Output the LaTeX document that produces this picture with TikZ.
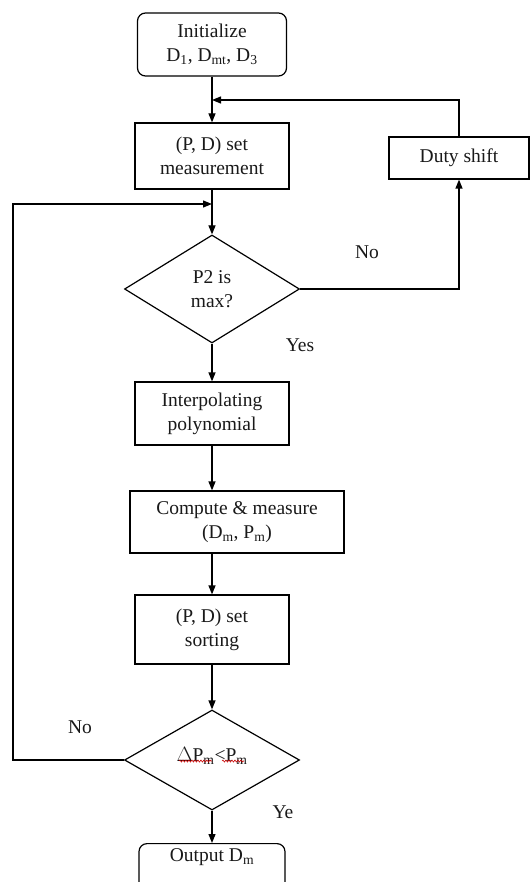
\documentclass[tikz,border=0pt]{standalone}
\usepackage{fontspec}
\setmainfont{Liberation Serif}
\usetikzlibrary{shapes.geometric,arrows.meta,decorations.pathmorphing,calc}
\begin{document}
\begin{tikzpicture}[x=1pt,y=-1pt,
  every node/.style={font=\fontsize{19.5}{24}\selectfont, align=center, inner sep=0pt, text=black!90},
  procbox/.style={draw, line width=1.2pt, rectangle},
  termbox/.style={draw, line width=1.2pt, rectangle, rounded corners=8pt},
  decbox/.style={draw, line width=1.2pt, diamond, minimum width=175pt},
  lbl/.style={font=\fontsize{19.5}{24}\selectfont},
  arr/.style={line width=1.2pt, -{Triangle[length=9pt,width=7pt]}},
  squig/.style={red!80!black, line width=0.6pt, decorate, decoration={snake, amplitude=1pt, segment length=3pt}}
]
\clip (0,0) rectangle (531,882);
\fill[white] (0,0) rectangle (531,882);

\node[termbox, minimum width=149pt, minimum height=63pt] (init) at (212,44.5)
  {Initialize\\D\textsubscript{1}, D\textsubscript{mt}, D\textsubscript{3}};
\node[procbox, minimum width=154pt, minimum height=66pt] (meas) at (212,156)
  {(P, D) set\\measurement};
\node[procbox, minimum width=140pt, minimum height=42pt] (duty) at (459,158)
  {Duty shift};
\node[decbox, minimum height=108pt] (d1) at (212,289) {P2 is\\max?};
\node[procbox, minimum width=154pt, minimum height=63pt] (interp) at (212,413.5)
  {Interpolating\\polynomial};
\node[procbox, minimum width=214pt, minimum height=62pt] (comp) at (237,522)
  {Compute \& measure\\(D\textsubscript{m}, P\textsubscript{m})};
\node[procbox, minimum width=154pt, minimum height=69pt] (sort) at (212,629.5)
  {(P, D) set\\sorting};
\node[decbox, minimum height=100pt] (d2) at (212,760)
  {\raisebox{12pt}{$\Delta$P\textsubscript{m}<P\textsubscript{m}}};
\node[termbox, minimum width=146pt, anchor=north, inner ysep=5pt] (out) at (212,843)
  {Output D\textsubscript{m}\\ \mbox{}};

\node[lbl] (no1) at (367,252) {No};
\node[lbl] (yes1) at (300,345) {Yes};
\node[lbl] (no2) at (80,727) {No};
\node[lbl] (ye2) at (283,812) {Ye};

\coordinate (merge1) at (212,100);
\coordinate (lcorner) at (13,204);
\coordinate (merge2) at (212,204);

\draw[arr] (init) -- (meas);
\draw[arr] (duty.north) |- (merge1);
\draw[arr] (meas) -- (d1);
\draw[arr] (d1.east) -| (duty.south);
\draw[arr] (d2.west) -| (lcorner) -- (merge2);
\draw[arr] (d1) -- (interp);
\draw[arr] (interp.south) -- (interp.south |- comp.north);
\draw[arr] (comp.south -| sort.north) -- (sort.north);
\draw[arr] (sort) -- (d2);
\draw[arr] (d2.south) -- (out.north);

\draw[squig] (179,761) -- (212,761);
\draw[squig] (222,761) -- (244,761);
\end{tikzpicture}
\end{document}
